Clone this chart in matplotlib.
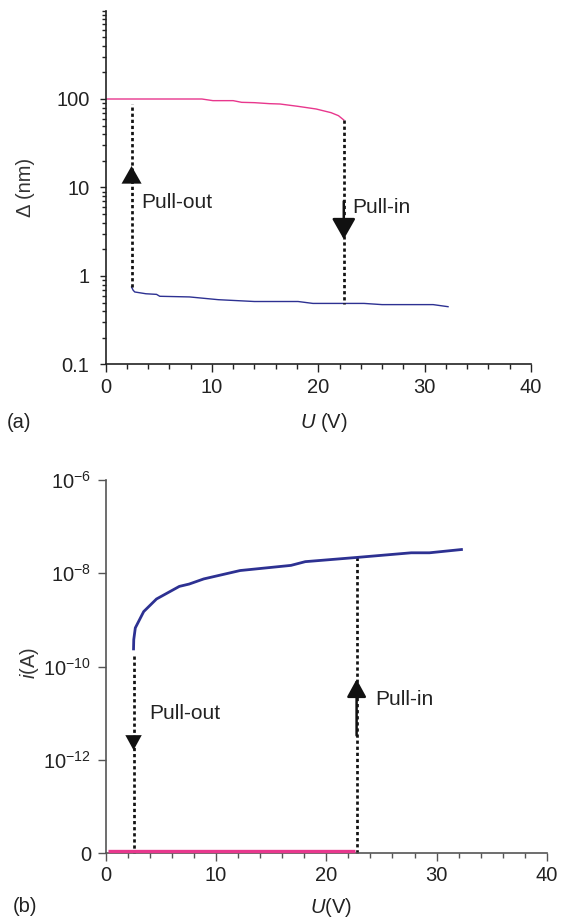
import numpy as np
import matplotlib
matplotlib.use("Agg")
import matplotlib.pyplot as plt
from matplotlib.ticker import FixedLocator, NullFormatter, FixedFormatter

plt.rcParams["font.family"] = ["Liberation Sans", "DejaVu Sans"]
plt.rcParams["mathtext.fontset"] = "custom"
plt.rcParams["mathtext.rm"] = "Liberation Sans"
plt.rcParams["mathtext.it"] = "Liberation Sans:italic"

PINK = "#e8378d"
BLUE = "#2d3192"
DOT = (0, (1.2, 1.05))

# ---- (a) gap vs voltage ----
up_u = [0, 3, 6, 9.06, 10.1, 12.0, 12.8, 14.0, 15.4, 16.4, 18.1, 19.8, 21.2, 21.9, 22.4]
up_gap = [100, 100, 100, 100, 95.8, 95.8, 91.7, 90.9, 88.6, 87.8, 82.6, 77.1, 70.1, 64.8, 57.9]
down_u = [2.45, 2.6, 2.75, 3.8, 4.8, 5.1, 7.9, 10.6, 14.0, 18.1, 19.5, 24.3, 26.0, 30.8, 32.2]
down_gap = [0.75, 0.69, 0.66, 0.63, 0.62, 0.59, 0.58, 0.54, 0.515, 0.515, 0.49, 0.49, 0.475, 0.475, 0.45]
a_pullout_u, a_pullout_top = 2.45, 88
a_pullin_u, a_pullin_bottom = 22.4, 0.48

# ---- (b) current vs voltage ----
cur_u = [2.54, 2.56, 2.70, 3.46, 4.62, 6.69, 7.58, 8.90, 12.2, 16.8, 18.1, 22.75, 27.7, 29.35, 32.25]
cur_log = [-9.62, -9.42, -9.17, -8.82, -8.55, -8.28, -8.23, -8.12, -7.94, -7.83, -7.75, -7.66, -7.56, -7.56, -7.49]
off_u = [0.25, 22.6]
off_i = [1.1e-14, 1.1e-14]
b_pullout_u = 2.54
b_pullin_u = 22.75
b_yticks = [1e-14, 1e-12, 1e-10, 1e-8, 1e-6]
b_yticklabels = ["0", r"$\mathregular{10^{-12}}$", r"$\mathregular{10^{-10}}$",
                 r"$\mathregular{10^{-8}}$", r"$\mathregular{10^{-6}}$"]

W, H = 570, 918
fig = plt.figure(figsize=(W / 100, H / 100), dpi=100)
axa = fig.add_axes([105.5 / W, 1 - 364.5 / H, 425.5 / W, 354 / H])
axb = fig.add_axes([105.5 / W, 1 - 853.3 / H, 441.5 / W, 373.3 / H])

FS = 14.5
FS_NOTE = 15


def style(ax, color, ymajor_len, ypad):
    for s in ("top", "right"):
        ax.spines[s].set_visible(False)
    for s in ("left", "bottom"):
        ax.spines[s].set_color(color)
        ax.spines[s].set_linewidth(1.2)
    ax.tick_params(which="both", direction="out", colors=color, labelcolor="#222222",
                   labelsize=FS, width=1.0)
    ax.tick_params(axis="x", which="major", length=5.5, pad=4)
    ax.tick_params(axis="x", which="minor", length=3.6)
    ax.tick_params(axis="y", which="major", length=ymajor_len, pad=ypad)
    ax.tick_params(axis="y", which="minor", length=3.0)
    ax.set_xlim(0, 40)
    ax.xaxis.set_major_locator(FixedLocator([0, 10, 20, 30, 40]))
    ax.xaxis.set_minor_locator(FixedLocator(np.arange(0, 41, 2)))


def head(ax, x, base, tip, lw=0.0, tail=None, hl=1.27, hw=0.72):
    start = tail if tail is not None else base
    ax.annotate("", xy=(x, tip), xytext=(x, start),
                arrowprops=dict(arrowstyle=f"-|>,head_length={hl},head_width={hw}",
                                color="#111111", lw=lw if lw else 0.01,
                                shrinkA=0, shrinkB=0, mutation_scale=10))


def place_labels(ax, xl, yl):
    ax.xaxis.set_label_coords(*xl)
    ax.yaxis.set_label_coords(*yl)
    ax.xaxis.label.set_verticalalignment("center")
    ax.yaxis.label.set_verticalalignment("center")


# panel (a)
style(axa, "#222222", 4.5, 7.0)
axa.set_yscale("log")
axa.set_ylim(0.1, 1000)
axa.yaxis.set_major_locator(FixedLocator([0.1, 1, 10, 100]))
axa.yaxis.set_major_formatter(FixedFormatter(["0.1", "1", "10", "100"]))
minor = [m * 10.0 ** e for e in range(-1, 3) for m in range(2, 10)] + [1000]
axa.yaxis.set_minor_locator(FixedLocator(minor))
axa.yaxis.set_minor_formatter(NullFormatter())

axa.plot(up_u, up_gap, color=PINK, lw=1.0)
axa.plot(down_u, down_gap, color=BLUE, lw=1.0)
axa.plot([a_pullout_u, a_pullout_u], [down_gap[0], a_pullout_top], color="#111111", lw=1.95, ls=DOT)
axa.plot([a_pullin_u, a_pullin_u], [up_gap[-1], a_pullin_bottom], color="#111111", lw=1.95, ls=DOT)
head(axa, a_pullout_u, 10.8, 17.5)
head(axa, a_pullin_u, 4.0, 2.6, lw=1.8, tail=7.0)
axa.text(3.35, 6.7, "Pull-out", fontsize=FS_NOTE, va="center", ha="left", color="#222222")
axa.text(23.2, 5.9, "Pull-in", fontsize=FS_NOTE, va="center", ha="left", color="#222222")
axa.set_ylabel("Δ (nm)", fontsize=FS, color="#333333")
axa.set_xlabel(r"$\mathit{U}$ (V)", fontsize=FS, color="#222222")
place_labels(axa, (0.513, -0.163), (-0.187, 0.5))
fig.text(6.5 / W, 1 - 423 / H, "(a)", fontsize=FS, va="center", ha="left", color="#222222")

# panel (b)
style(axb, "#555555", 6.0, 4.3)
axb.set_yscale("log")
axb.set_ylim(1e-14, 1e-6)
axb.yaxis.set_major_locator(FixedLocator(b_yticks))
axb.yaxis.set_major_formatter(FixedFormatter(b_yticklabels))
axb.yaxis.set_minor_locator(FixedLocator([]))

cur_i = 10.0 ** np.array(cur_log)
axb.plot(off_u, off_i, color=PINK, lw=2.4, solid_capstyle="butt", clip_on=False, zorder=3)
axb.plot(cur_u, cur_i, color=BLUE, lw=2.0, zorder=3)
axb.plot([b_pullout_u, b_pullout_u], [10 ** -9.77, 1e-14], color="#111111", lw=1.95, ls=DOT, clip_on=False)
axb.plot([b_pullin_u, b_pullin_u], [1e-14, cur_i[11]], color="#111111", lw=1.95, ls=DOT, clip_on=False)
head(axb, b_pullout_u, 10 ** -11.475, 10 ** -11.79, hl=1.08, hw=0.59)
head(axb, b_pullin_u, 10 ** -10.59, 10 ** -10.27, lw=1.8, tail=10 ** -11.475, hl=1.08, hw=0.59)
axb.text(3.96, 10 ** -11.01, "Pull-out", fontsize=FS_NOTE, va="center", ha="left", color="#222222")
axb.text(24.4, 10 ** -10.71, "Pull-in", fontsize=FS_NOTE, va="center", ha="left", color="#222222")
axb.set_ylabel(r"$\mathit{i}$(A)", fontsize=FS, color="#333333")
axb.set_xlabel(r"$\mathit{U}$(V)", fontsize=FS, color="#222222")
place_labels(axb, (0.511, -0.144), (-0.172, 0.51))
fig.text(12.7 / W, 1 - 907 / H, "(b)", fontsize=FS, va="center", ha="left", color="#222222")

fig.savefig("out.png", dpi=100)
